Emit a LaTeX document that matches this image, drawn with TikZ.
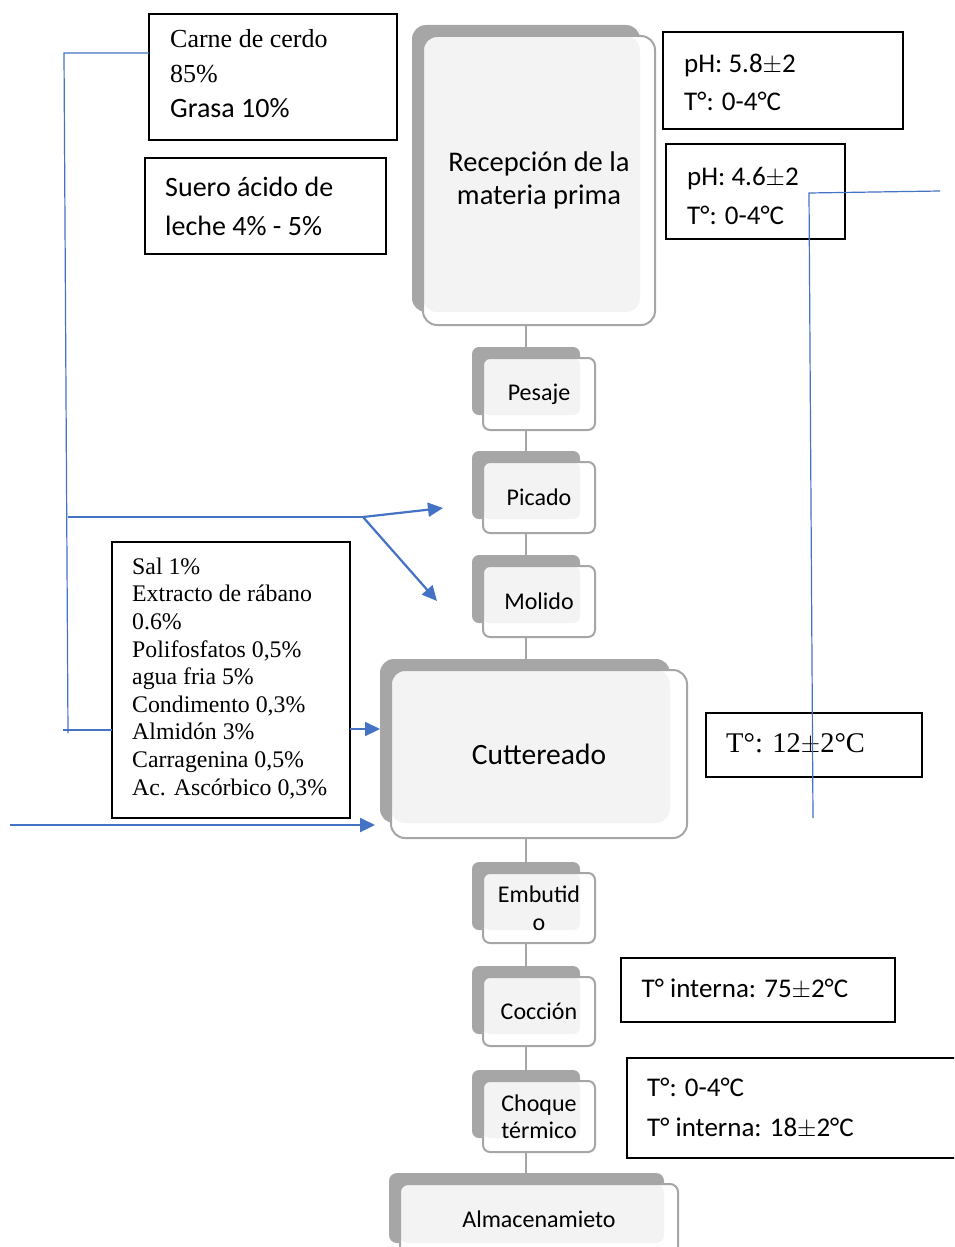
\documentclass[tikz,border=0pt]{standalone}
\usepackage{fontspec}
\setmainfont{Liberation Serif}
\setsansfont{Carlito}
\usetikzlibrary{arrows.meta}
\definecolor{backgray}{HTML}{A6A6A6}
\definecolor{innergray}{HTML}{F3F3F3}
\definecolor{blueline}{HTML}{4472C4}
\newcommand\pfont{\fontsize{24}{27}\selectfont}
% #1 name, #2 bx1, #3 by1, #4 bx2, #5 by2, #6 fx2, #7 fy2, #8 radius, #9 text
\newcommand\procbox[9]{%
  \node[backbox, rounded corners=#8, minimum width={#4-#2}, minimum height={#5-#3}] (#1b) at ({(#2+#4)/2},{(#3+#5)/2}) {};
  \fill[white, rounded corners=#8] ({#2+11},{#3+11}) rectangle (#6,#7);
  \fill[innergray, rounded corners=#8] ({#2+11},{#3+11}) rectangle (#4,#5);
  \draw[frontline, rounded corners=#8] ({#2+11},{#3+11}) rectangle (#6,#7);
  \node[proctext, minimum width={#6-#2-11}, minimum height={#7-#3-11}] (#1) at ({(#2+11+#6)/2},{(#3+11+#7)/2}) {#9};
}
\begin{document}
\begin{tikzpicture}[x=1pt,y=-1pt,
  backbox/.style={fill=backgray, inner sep=0pt, outer sep=0pt},
  frontline/.style={draw=backgray, line width=2pt},
  proctext/.style={inner sep=0pt, outer sep=0pt, align=center, font=\sffamily\pfont},
  conn/.style={draw=backgray, line width=2pt},
  infobox/.style={draw=black, line width=1.5pt, inner sep=0pt, outer sep=0pt},
  txt/.style={anchor=base west, align=left, inner sep=0pt},
  flow/.style={draw=blueline, line width=1.2pt},
  flowthick/.style={draw=blueline, line width=2.2pt},
  flowarrow/.style={draw=blueline, line width=2.2pt, -{Triangle[length=15pt,width=14pt]}},
]
\useasboundingbox (0,0) rectangle (954,1247);
\clip (0,0) rectangle (954,1247);

% ---------- process boxes ----------
\renewcommand\pfont{\fontsize{28.5}{33}\selectfont}
\procbox{rec}{412}{25}{640}{312}{655}{325}{14}{Recepción de la\\materia prima}
\renewcommand\pfont{\fontsize{24}{27}\selectfont}
\procbox{pes}{472}{347}{580}{415}{595}{430}{7}{Pesaje}
\procbox{pic}{472}{451}{580}{519}{595}{533}{7}{Picado}
\procbox{mol}{472}{555}{580}{623}{595}{637}{7}{Molido}
\renewcommand\pfont{\fontsize{29.5}{33}\selectfont}
\procbox{cut}{380}{659}{670}{823}{687}{838}{14}{Cuttereado}
\renewcommand\pfont{\fontsize{24}{28}\selectfont}
\procbox{emb}{472}{862}{580}{930}{595}{943}{7}{Embutid\\o}
\procbox{coc}{472}{966}{580}{1034}{595}{1046}{7}{Cocción}
\renewcommand\pfont{\fontsize{24}{27}\selectfont}
\procbox{cho}{472}{1070}{580}{1138}{595}{1152}{7}{Choque\\térmico}
\procbox{alm}{389}{1173}{664}{1243}{678}{1255}{8}{Almacenamieto}

% ---------- connectors between steps ----------
\draw[conn] (recb.south |- rec.south) -- (recb.south |- pesb.north);
\draw[conn] (pesb.south |- pes.south) -- (pesb.south |- picb.north);
\draw[conn] (picb.south |- pic.south) -- (picb.south |- molb.north);
\draw[conn] (molb.south |- mol.south) -- (molb.south |- cutb.north);
\draw[conn] (molb.south |- cut.south) -- (molb.south |- embb.north);
\draw[conn] (embb.south |- emb.south) -- (embb.south |- cocb.north);
\draw[conn] (cocb.south |- coc.south) -- (cocb.south |- chob.north);
\draw[conn] (chob.south |- cho.south) -- (chob.south |- almb.north);

% ---------- info boxes ----------
\node[infobox, minimum width=248, minimum height=126] (carne) at (273,77) {};
\node[txt, font=\fontsize{26}{35}\selectfont] (carnet) at (170,82) {Carne de cerdo\\85\%};
\node[txt, font=\sffamily\fontsize{28}{35}\selectfont] (grasat) at (170,117.5) {Grasa 10\%};

\node[infobox, minimum width=241, minimum height=96] (suero) at (265.5,206) {};
\node[txt, font=\sffamily\fontsize{28}{38.5}\selectfont] (suerot) at (165,235) {Suero ácido de\\leche 4\% - 5\%};

\node[infobox, minimum width=238, minimum height=276] (ingr) at (231,680) {};
\node[txt, font=\fontsize{23.8}{27.6}\selectfont] (ingrt) at (132,795) {Sal 1\%\\Extracto de rábano\\0.6\%\\Polifosfatos 0,5\%\\agua fria 5\%\\Condimento 0,3\%\\Almidón 3\%\\Carragenina 0,5\%\\Ac. Ascórbico 0,3\%};

\node[infobox, minimum width=240, minimum height=97] (ph1) at (783,80.5) {};
\node[txt, font=\sffamily\fontsize{27}{38.5}\selectfont] (ph1t) at (684,110.5) {pH: 5.8$\pm$2\\T°: 0-4°C};

\node[infobox, minimum width=179, minimum height=95] (ph2) at (755.5,191.5) {};
\node[txt, font=\sffamily\fontsize{27}{39}\selectfont] (ph2t) at (687,224) {pH: 4.6$\pm$2\\T°: 0-4°C};

\node[infobox, minimum width=216, minimum height=64] (t12) at (814,745) {};
\node[txt, font=\fontsize{28.5}{33}\selectfont] (t12t) at (726,752) {T°: 12$\pm$2°C};

\node[infobox, minimum width=274, minimum height=64] (t75) at (758,990) {};
\node[txt, font=\sffamily\fontsize{27}{33}\selectfont] (t75t) at (641.5,997) {T° interna: 75$\pm$2°C};

\node[infobox, minimum width=360, minimum height=100] (t18) at (807,1108) {};
\node[txt, font=\sffamily\fontsize{27}{39.5}\selectfont] (t18t) at (647,1136) {T°: 0-4°C\\T° interna: 18$\pm$2°C};

% ---------- blue flow lines ----------
\coordinate (c1) at (64,53);
\coordinate (c2) at (68,733);
\coordinate (c3) at (68,517);
\coordinate (br) at (363,517);
\coordinate (toPic) at (443,508);
\coordinate (toMol) at (437,601);
\draw[flow] (carne.west |- c1) -- (c1) -- (c2);
\draw[flow] (c3) -- (br);
\draw[flowarrow] (br) -- (toPic);
\draw[flowarrow] (br) -- (toMol);

\coordinate (c4) at (63,730);
\draw[flowthick] (c4) -- (ingr.west |- c4);
\coordinate (c5) at (380,729);
\draw[flowarrow] (ingr.east |- c5) -- (c5);
\coordinate (c6) at (10,825);
\coordinate (c7) at (375,825);
\draw[flowarrow] (c6) -- (c7);

\coordinate (r1) at (940,191);
\coordinate (r2) at (809,193);
\coordinate (r3) at (813,818);
\draw[flow] (r1) -- (r2) -- (r3);
\end{tikzpicture}
\end{document}
